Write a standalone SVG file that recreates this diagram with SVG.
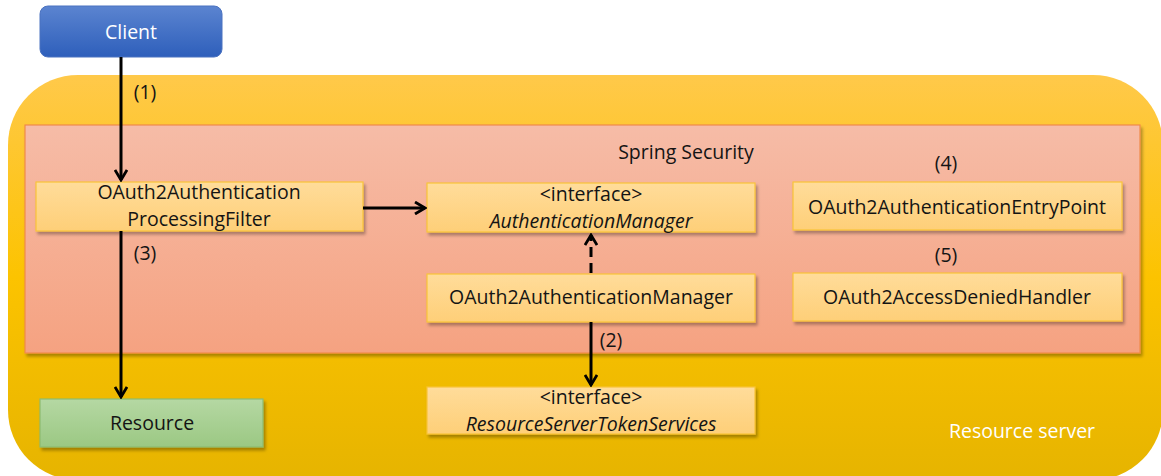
<svg xmlns="http://www.w3.org/2000/svg" width="1161" height="476" viewBox="0 0 1161 476">
<defs>
<linearGradient id="gOuter" x1="0" y1="0" x2="0" y2="1"><stop offset="0" stop-color="#ffc94a"/><stop offset="0.5" stop-color="#fcc300"/><stop offset="1" stop-color="#e6b400"/></linearGradient>
<linearGradient id="gSpring" x1="0" y1="0" x2="0" y2="1"><stop offset="0" stop-color="#f6bca7"/><stop offset="1" stop-color="#f5a281"/></linearGradient>
<linearGradient id="gBox" x1="0" y1="0" x2="0" y2="1"><stop offset="0" stop-color="#ffdc9a"/><stop offset="1" stop-color="#fecf78"/></linearGradient>
<linearGradient id="gClient" x1="0" y1="0" x2="0" y2="1"><stop offset="0" stop-color="#5b84d0"/><stop offset="1" stop-color="#2e5fbb"/></linearGradient>
<linearGradient id="gRes" x1="0" y1="0" x2="0" y2="1"><stop offset="0" stop-color="#b5d8a3"/><stop offset="1" stop-color="#9bc883"/></linearGradient>
<filter id="sh" x="-5%" y="-10%" width="115%" height="130%"><feDropShadow dx="2" dy="3" stdDeviation="1.5" flood-color="#000" flood-opacity="0.3"/></filter>
<marker id="ah" viewBox="0 0 14 14" refX="12" refY="7" markerWidth="14" markerHeight="14" markerUnits="userSpaceOnUse" orient="auto"><path d="M2,1 L12,7 L2,13" fill="none" stroke="#000" stroke-width="2.8"/></marker>
</defs>
<style>
.box{fill:url(#gBox);stroke:#f8c438;stroke-width:1.2;filter:url(#sh)}
.t{font-family:"Open Sans","Liberation Sans",sans-serif;font-size:19.5px;fill:#141414;text-anchor:middle;dominant-baseline:central}
.i{font-style:italic}
.c{stroke:#000;stroke-width:3;fill:none;marker-end:url(#ah)}
</style>
<g id="resource-server">
<rect x="8" y="75" width="1155" height="405" rx="70" fill="url(#gOuter)"/>
<text class="t" x="1022" y="430" style="fill:#fff">Resource server</text>
</g>
<g id="spring-security">
<rect x="25" y="125" width="1115" height="228" fill="url(#gSpring)" stroke="#f08a4a" stroke-width="1.2" filter="url(#sh)"/>
<text class="t" x="686" y="151">Spring Security</text>
</g>
<g id="client">
<rect x="40" y="6" width="182" height="51" rx="8" fill="url(#gClient)" stroke="#4a72c0" stroke-width="1"/>
<text class="t" x="131" y="31" style="fill:#fff">Client</text>
</g>
<g id="filter">
<rect class="box" x="36" y="182" width="327" height="49"/>
<text class="t" x="199" y="191">OAuth2Authentication</text>
<text class="t" x="199" y="218">ProcessingFilter</text>
</g>
<g id="auth-manager">
<rect class="box" x="427" y="183" width="328" height="49"/>
<text class="t" x="591" y="193">&lt;interface&gt;</text>
<text class="t i" x="591" y="220">AuthenticationManager</text>
</g>
<g id="oauth2-auth-manager">
<rect class="box" x="427" y="274" width="328" height="48"/>
<text class="t" x="591" y="296">OAuth2AuthenticationManager</text>
</g>
<g id="token-services">
<rect class="box" x="427" y="387" width="328" height="47"/>
<text class="t" x="591" y="396">&lt;interface&gt;</text>
<text class="t i" x="591" y="423">ResourceServerTokenServices</text>
</g>
<g id="entry-point">
<rect class="box" x="793" y="182" width="329" height="48"/>
<text class="t" x="957" y="206">OAuth2AuthenticationEntryPoint</text>
<text class="t" x="946" y="162">(4)</text>
</g>
<g id="access-denied">
<rect class="box" x="793" y="273" width="329" height="48"/>
<text class="t" x="957" y="296">OAuth2AccessDeniedHandler</text>
<text class="t" x="946" y="254">(5)</text>
</g>
<g id="resource">
<rect x="40" y="399" width="223" height="48" fill="url(#gRes)" stroke="#8dbb70" stroke-width="1.2" filter="url(#sh)"/>
<text class="t" x="152" y="422">Resource</text>
</g>
<g id="connectors">
<line class="c" x1="121" y1="57" x2="121" y2="180"/>
<text class="t" x="145" y="91">(1)</text>
<line class="c" x1="121" y1="231" x2="121" y2="397"/>
<text class="t" x="145" y="252">(3)</text>
<line class="c" x1="363" y1="208" x2="425" y2="208"/>
<line class="c" x1="591" y1="273" x2="591" y2="235" stroke-dasharray="10,6"/>
<line class="c" x1="591" y1="322" x2="591" y2="385"/>
<text class="t" x="611" y="339">(2)</text>
</g>
</svg>
